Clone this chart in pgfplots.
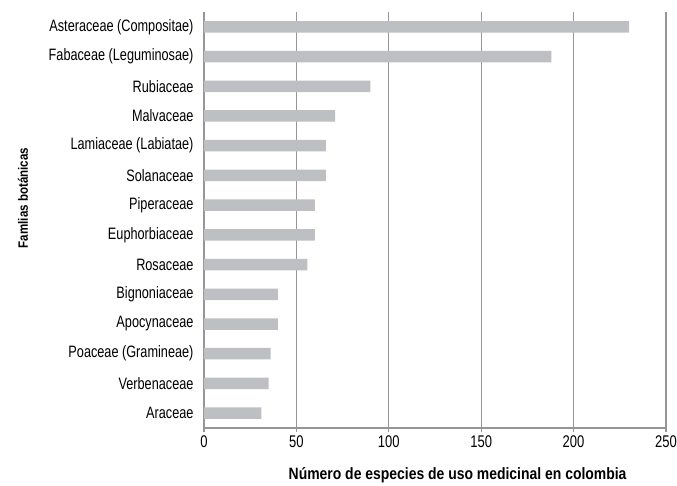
\documentclass[border=0pt]{standalone}
\usepackage{pgfplots}
\pgfplotsset{compat=1.18}
\usepackage{fontspec}
\setmainfont{Liberation Sans}[FakeStretch=0.77, BoldFeatures={FakeStretch=0.85}]
\definecolor{barc}{RGB}{190,191,195}
\definecolor{gridc}{RGB}{150,150,150}
\begin{document}
\begin{tikzpicture}
\useasboundingbox (-204pt,-58pt) rectangle (473pt,428pt);
\begin{axis}[
  scale only axis,
  width=462pt, height=416pt,
  at={(0,0)}, anchor=south west,
  xbar, bar width=11.5pt,
  xmin=0, xmax=250,
  ymin=-0.5, ymax=13.5,
  y dir=reverse,
  xtick={0,50,...,250},
  ytick={0,...,13},
  yticklabels={Asteraceae (Compositae),Fabaceae (Leguminosae),Rubiaceae,Malvaceae,Lamiaceae (Labiatae),Solanaceae,Piperaceae,Euphorbiaceae,Rosaceae,Bignoniaceae,Apocynaceae,Poaceae (Gramineae),Verbenaceae,Araceae},
  axis x line*=bottom, axis y line*=left,
  axis line style={-, draw=gridc, line width=1.2pt},
  xmajorgrids, grid style={draw=gridc, line width=1.2pt},
  ytick style={draw=none},
  xtick style={draw=gridc, line width=1.2pt},
  tick align=outside, major tick length=4pt,
  /pgf/number format/assume math mode=true,
  xticklabel style={font=\fontsize{16.9}{18}\selectfont},
  yticklabel style={font=\fontsize{16.5}{18}\selectfont, xshift=-3pt},
  xlabel={\textbf{Número de especies de uso medicinal en colombia}},
  ylabel={\textbf{Famlias botánicas}},
  xlabel style={font=\fontsize{16.4}{18}\selectfont, at={(axis description cs:0.549,-0.113)}, anchor=center},
  ylabel style={font=\fontsize{13.6}{16}\selectfont, at={(axis description cs:-0.392,0.553)}, anchor=center},
  enlarge y limits=false,
]
\addplot[fill=barc, draw=none] coordinates {
(230,0) (188,1) (90,2) (71,3) (66,4) (66,5) (60,6) (60,7) (56,8) (40,9) (40,10) (36,11) (35,12) (31,13)
};
\end{axis}
\end{tikzpicture}
\end{document}
